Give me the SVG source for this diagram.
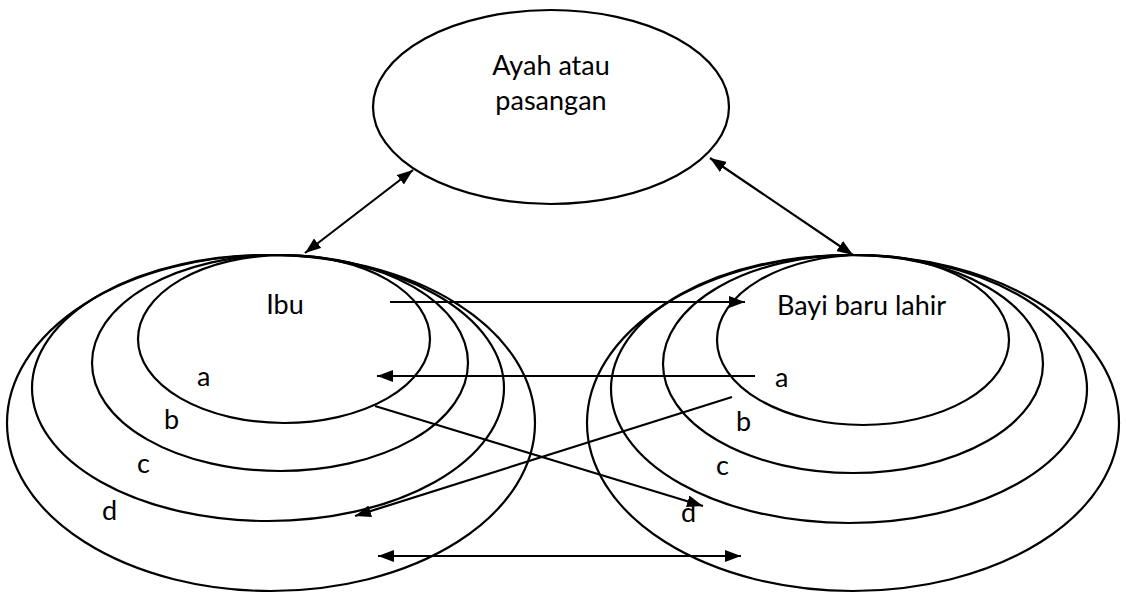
<svg xmlns="http://www.w3.org/2000/svg" width="1126" height="593" viewBox="0 0 1126 593">
<style>
.e{fill:none;stroke:#000;stroke-width:2.2}
.t{font-family:Lato,"Open Sans","Liberation Sans",sans-serif;font-size:27px;fill:#000}
.c{fill:none;stroke:#000;stroke-width:2.2}
</style>
<defs>
<marker id="ah" viewBox="0 0 16 12" refX="16" refY="6" markerWidth="16" markerHeight="12" markerUnits="userSpaceOnUse" orient="auto-start-reverse">
<path d="M0,0 L16,6 L0,12 Z" fill="#000"/>
</marker>
</defs>
<rect width="1126" height="593" fill="#fff"/>
<g id="ayah">
<ellipse class="e" cx="551" cy="107" rx="178" ry="97"/>
<text class="t" x="551" y="75" text-anchor="middle">Ayah atau</text>
<text class="t" x="551" y="110" text-anchor="middle">pasangan</text>
</g>
<g id="ibu">
<ellipse class="e" cx="271" cy="423" rx="264" ry="168"/>
<ellipse class="e" cx="268" cy="388" rx="236" ry="133"/>
<ellipse class="e" cx="280" cy="363" rx="188" ry="108"/>
<ellipse class="e" cx="284" cy="339" rx="146" ry="84"/>
<text class="t" x="285" y="314" text-anchor="middle">Ibu</text>
<text class="t" x="197" y="386">a</text>
<text class="t" x="164" y="429">b</text>
<text class="t" x="137" y="473">c</text>
<text class="t" x="102" y="520">d</text>
</g>
<g id="bayi">
<ellipse class="e" cx="853" cy="423" rx="266" ry="168"/>
<ellipse class="e" cx="849" cy="389" rx="238" ry="134"/>
<ellipse class="e" cx="853" cy="364" rx="190" ry="109"/>
<ellipse class="e" cx="863" cy="340" rx="146" ry="85"/>
<text class="t" x="777" y="315">Bayi baru lahir</text>
<text class="t" x="775" y="387">a</text>
<text class="t" x="736" y="431">b</text>
<text class="t" x="716" y="475">c</text>
<text class="t" x="681" y="522">d</text>
</g>
<g id="connectors">
<line class="c" x1="305" y1="253" x2="413" y2="170" marker-start="url(#ah)" marker-end="url(#ah)"/>
<line class="c" x1="710" y1="158" x2="853" y2="255" marker-start="url(#ah)" marker-end="url(#ah)"/>
<line class="c" x1="390" y1="302" x2="745" y2="302" marker-end="url(#ah)"/>
<line class="c" x1="755" y1="376" x2="377" y2="376" marker-end="url(#ah)"/>
<line class="c" x1="375" y1="406" x2="703" y2="506" marker-end="url(#ah)"/>
<line class="c" x1="732" y1="397" x2="355" y2="516" marker-end="url(#ah)"/>
<line class="c" x1="378" y1="556" x2="741" y2="556" marker-start="url(#ah)" marker-end="url(#ah)"/>
</g>
</svg>
